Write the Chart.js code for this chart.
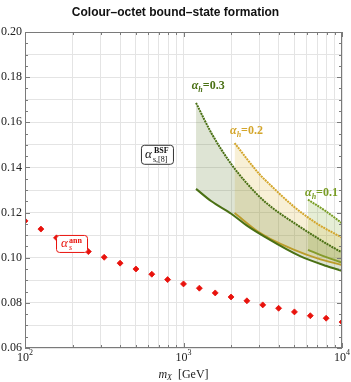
<!DOCTYPE html>
<html>
<head>
<meta charset="utf-8">
<script src="https://cdn.jsdelivr.net/npm/chart.js@4.4.0/dist/chart.umd.min.js"></script>
<style>
  html, body { margin: 0; padding: 0; background: #fff; }
</style>
</head>
<body>
<canvas id="chart" width="351" height="382"></canvas>
<script>
// ---- data ----
const massAnn = [100, 126, 158, 200, 251, 316, 398, 501, 631, 794, 1000,
                 1259, 1585, 1995, 2512, 3162, 3981, 5012, 6310, 7943, 10000];
const alphaAnn = [0.1163, 0.1127, 0.1088, 0.1057, 0.1027, 0.1002, 0.0976, 0.0950, 0.0927, 0.0903, 0.0884,
                  0.0865, 0.0844, 0.0826, 0.0809, 0.0791, 0.0776, 0.0760, 0.0743, 0.0732, 0.0715];

// alpha_h = 0.3 band
const mass03  = [1200, 1500, 2000, 2500, 3300, 5400, 8000, 10000];
const upper03 = [0.1686, 0.1552, 0.1415, 0.1331, 0.1245, 0.1138, 0.1062, 0.1023];
const lower03 = [0.1305, 0.1250, 0.1195, 0.1143, 0.1090, 0.1008, 0.0963, 0.0942];

// alpha_h = 0.2 band
const mass02  = [2100, 3000, 3500, 5000, 7000, 10000];
const upper02 = [0.1508, 0.1372, 0.1325, 0.1225, 0.1150, 0.1089];
const lower02 = [0.1198, 0.1112, 0.1085, 0.1035, 0.0997, 0.0968];

// alpha_h = 0.1 band
const mass01  = [6100, 7800, 10000];
const upper01 = [0.1257, 0.1209, 0.1153];
const lower01 = [0.1035, 0.1005, 0.0978];

// axis ticks
const xGrid = [100, 200, 300, 400, 500, 600, 700, 800, 900,
               1000, 2000, 3000, 4000, 5000, 6000, 7000, 8000, 9000, 10000];
const xLabelled = [100, 1000, 10000];
const yMinor = [0.06, 0.065, 0.07, 0.075, 0.08, 0.085, 0.09, 0.095, 0.10, 0.105, 0.11, 0.115,
                0.12, 0.125, 0.13, 0.135, 0.14, 0.145, 0.15, 0.155, 0.16, 0.165, 0.17, 0.175,
                0.18, 0.185, 0.19, 0.195, 0.20];

// colours
const DARK = '#4a7014', YEL = '#d4a62c', LIGHT = '#7a9e26', RED = '#e8120c';
const SERIF = '"Liberation Serif", "DejaVu Serif", serif';

const pts = (xs, ys) => xs.map((x, i) => ({ x: x, y: ys[i] }));

function line(data, color, dashed, fill, bg) {
    return {
        data: data,
        borderColor: color,
        borderWidth: 2,
        borderDash: dashed ? [2, 0.8] : [],
        pointRadius: 0,
        cubicInterpolationMode: 'monotone',
        fill: fill || false,
        backgroundColor: bg || 'transparent'
    };
}

// draws text pieces one after another: [text, font, dy]
function rich(ctx, parts, x, y, align) {
    let w = 0;
    parts.forEach(p => { ctx.font = p[1]; w += ctx.measureText(p[0]).width; });
    let cx = align === 'center' ? x - w / 2 : (align === 'right' ? x - w : x);
    parts.forEach(p => {
        ctx.font = p[1];
        ctx.fillText(p[0], cx, y + (p[2] || 0));
        cx += ctx.measureText(p[0]).width;
    });
    return w;
}

function roundBox(ctx, x, y, w, h, r, stroke) {
    ctx.beginPath();
    ctx.roundRect(x, y, w, h, r);
    ctx.fillStyle = '#fff';
    ctx.fill();
    ctx.strokeStyle = stroke;
    ctx.lineWidth = 1;
    ctx.stroke();
}

const decor = {
    id: 'decor',
    afterDatasetsDraw(chart) {
        const ctx = chart.ctx;
        const a = chart.chartArea;
        const xs = chart.scales.x, ys = chart.scales.y;
        ctx.save();
        ctx.textBaseline = 'alphabetic';

        // frame
        ctx.strokeStyle = '#7a7a7a';
        ctx.lineWidth = 1;
        ctx.strokeRect(a.left + 0.5, a.top + 0.5, a.right - a.left - 1, a.bottom - a.top - 1);

        // inside tick marks on all sides
        ctx.beginPath();
        xGrid.forEach(v => {
            const px = Math.round(xs.getPixelForValue(v)) + 0.5;
            const len = xLabelled.includes(v) ? 5 : 3;
            ctx.moveTo(px, a.bottom); ctx.lineTo(px, a.bottom - len);
            ctx.moveTo(px, a.top); ctx.lineTo(px, a.top + len);
        });
        yMinor.forEach(v => {
            const py = Math.round(ys.getPixelForValue(v)) + 0.5;
            const len = Math.round(v * 1000) % 20 === 0 ? 5 : 3;
            ctx.moveTo(a.left, py); ctx.lineTo(a.left + len, py);
            ctx.moveTo(a.right, py); ctx.lineTo(a.right - len, py);
        });
        ctx.stroke();

        // x tick labels 10^n
        ctx.fillStyle = '#222';
        xLabelled.forEach(v => {
            const px = xs.getPixelForValue(v);
            rich(ctx, [['10', '12px ' + SERIF, 0], [String(Math.round(Math.log10(v))), '8px ' + SERIF, -6]],
                 px, a.bottom + 13, 'center');
        });

        // x axis title
        rich(ctx, [['m', 'italic 12px ' + SERIF, 0], ['X', 'italic 8px ' + SERIF, 2],
                   ['  [GeV]', '12px ' + SERIF, 0]], (a.left + a.right) / 2, a.bottom + 30, 'center');

        // title
        ctx.fillStyle = '#111';
        ctx.font = 'bold 12px "Liberation Sans", Arial, sans-serif';
        ctx.textAlign = 'center';
        ctx.fillText('Colour\u2013octet bound\u2013state formation', chart.width / 2, 16);
        ctx.textAlign = 'left';

        // band labels
        [[1127, 0.1767, '0.3', DARK], [1965, 0.1564, '0.2', YEL], [5845, 0.1289, '0.1', LIGHT]].forEach(l => {
            ctx.fillStyle = l[3];
            rich(ctx, [['\u03b1', 'italic bold 12px ' + SERIF, 0], ['h', 'italic bold 8px ' + SERIF, 3],
                       ['=' + l[2], 'bold 12px ' + SERIF, 0]],
                 xs.getPixelForValue(l[0]), ys.getPixelForValue(l[1]) + 4, 'left');
        });

        // alpha_s^BSF box
        let bx = xs.getPixelForValue(690), by = ys.getPixelForValue(0.1456);
        roundBox(ctx, bx - 16.5, by - 9.5, 32, 19, 3, '#333');
        ctx.fillStyle = '#111';
        ctx.font = 'italic 13px ' + SERIF;
        ctx.fillText('\u03b1', bx - 13, by + 3);
        ctx.font = 'bold 8px ' + SERIF;
        ctx.fillText('BSF', bx - 4, by - 2);
        ctx.font = '8px ' + SERIF;
        ctx.fillText('s,[8]', bx - 5, by + 7);

        // alpha_s^ann box
        bx = xs.getPixelForValue(198); by = ys.getPixelForValue(0.1061);
        roundBox(ctx, bx - 15.5, by - 8.5, 31, 17, 3, RED);
        ctx.fillStyle = RED;
        ctx.font = 'italic 13px ' + SERIF;
        ctx.fillText('\u03b1', bx - 11, by + 3);
        ctx.font = 'bold 8px ' + SERIF;
        ctx.fillText('ann', bx - 3, by - 1);
        ctx.font = 'italic 8px ' + SERIF;
        ctx.fillText('s', bx - 3, by + 6);

        ctx.restore();
    }
};

new Chart(document.getElementById('chart').getContext('2d'), {
    type: 'line',
    data: {
        datasets: [
            {
                data: pts(massAnn, alphaAnn),
                showLine: false,
                pointStyle: 'rectRot',
                pointRadius: 3,
                pointBackgroundColor: RED,
                pointBorderColor: RED,
                pointBorderWidth: 0.8
            },
            line(pts(mass03, lower03), DARK, false),
            line(pts(mass03, upper03), DARK, true, '-1', 'rgba(90,120,40,0.2)'),
            line(pts(mass02, lower02), YEL, false),
            line(pts(mass02, upper02), YEL, true, '-1', 'rgba(225,185,70,0.22)'),
            line(pts(mass01, lower01), LIGHT, false),
            line(pts(mass01, upper01), LIGHT, true, '-1', 'rgba(130,170,50,0.2)')
        ]
    },
    options: {
        responsive: false,
        devicePixelRatio: 1,
        animation: false,
        layout: { padding: { top: 32, right: 9, left: 0, bottom: 0 } },
        plugins: { legend: { display: false }, tooltip: { enabled: false }, title: { display: false } },
        scales: {
            x: {
                type: 'logarithmic',
                min: 100,
                max: 10000,
                afterBuildTicks: s => { s.ticks = xGrid.map(v => ({ value: v })); },
                afterFit: s => { s.height = 34; },
                ticks: { display: false },
                grid: { color: '#e4e4e4', drawTicks: false },
                border: { display: false }
            },
            y: {
                min: 0.06,
                max: 0.20,
                afterFit: s => { s.width = 25; },
                ticks: {
                    stepSize: 0.01,
                    autoSkip: false,
                    padding: 3,
                    color: '#222',
                    font: { family: 'Liberation Serif', size: 12 },
                    callback: v => (Math.round(v * 100) % 2 === 0 ? v.toFixed(2) : '')
                },
                grid: { color: '#e4e4e4', drawTicks: false },
                border: { display: false }
            }
        }
    },
    plugins: [decor]
});
</script>
</body>
</html>
